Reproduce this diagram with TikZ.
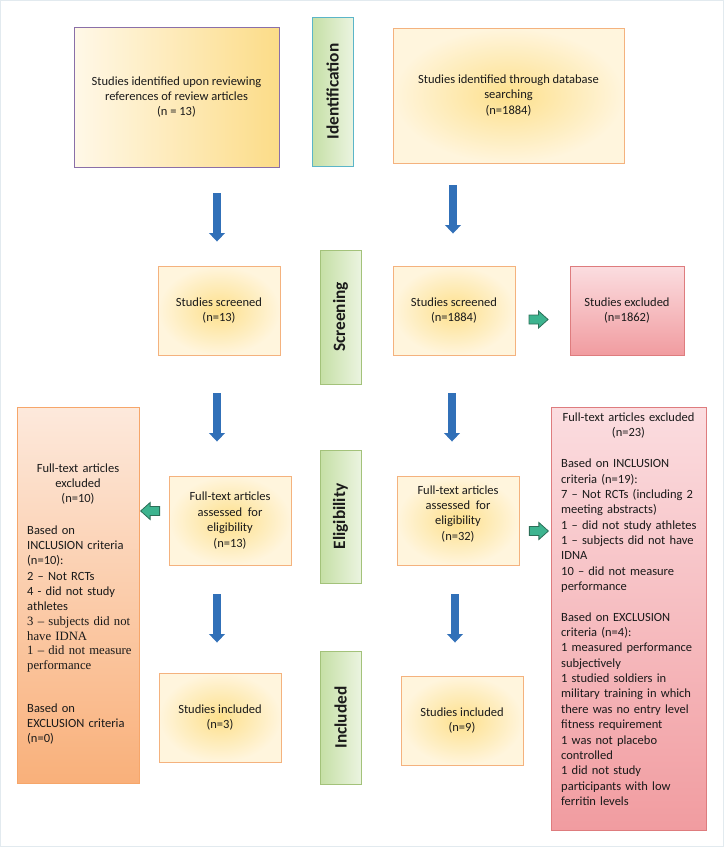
\documentclass[tikz,border=0pt]{standalone}
\usepackage{fontspec}
\setmainfont{Carlito}
\newfontfamily\timesfont{Liberation Serif}
\usetikzlibrary{arrows.meta,calc}
\definecolor{txtc}{HTML}{1A1A1A}
\definecolor{framec}{HTML}{E2EAEF}
\definecolor{yelB}{HTML}{F4B27E}
\definecolor{yelC}{HTML}{FDE08C}
\definecolor{yelO}{HTML}{FFF5DD}
\definecolor{idLL}{HTML}{FFF8E8}
\definecolor{idLR}{HTML}{FCDC88}
\definecolor{purB}{HTML}{8A6FA8}
\definecolor{stgTop}{HTML}{EBF4E0}
\definecolor{stgBot}{HTML}{C5DFA5}
\definecolor{stgB}{HTML}{A3C27A}
\definecolor{idB}{HTML}{5BB5C8}
\definecolor{redT}{HTML}{FBDDE0}
\definecolor{redBot}{HTML}{F19CA0}
\definecolor{redB}{HTML}{DE7C7E}
\definecolor{orT}{HTML}{FDE9DC}
\definecolor{orBot}{HTML}{F9B07A}
\definecolor{orB}{HTML}{F6A66A}
\definecolor{blueA}{HTML}{3170B8}
\definecolor{grF}{HTML}{3DB48F}
\definecolor{grD}{HTML}{2C6E58}
\begin{document}
\begin{tikzpicture}[x=1pt,y=-1pt,
  box/.style={rectangle, line width=0.9pt, align=center, inner sep=0pt,
    font=\fontsize{12.5}{15.35}\selectfont, text=txtc},
  ybox/.style={box, draw=yelB, inner color=yelC, outer color=yelO},
  rbox/.style={box, draw=redB, top color=redT, bottom color=redBot},
  obox/.style={box, draw=orB, top color=orT, bottom color=orBot},
  stage/.style={rectangle, rotate=90, draw=stgB, line width=0.9pt,
    left color=stgBot, right color=stgTop, minimum height=41pt, inner sep=0pt,
    font=\fontsize{17.3}{20}\selectfont\bfseries, text=txtc},
  listtxt/.style={anchor=base west, inner sep=0pt, text width=150pt, align=left,
    font=\fontsize{12.5}{15.35}\selectfont, text=txtc},
  headtxt/.style={anchor=base, inner sep=0pt, text width=150pt, align=center,
    font=\fontsize{12.5}{15.35}\selectfont, text=txtc},
  bluearr/.style={draw=blueA, line width=7.5pt, -{Triangle[width=15.5pt,length=8.5pt]}},
  garr/.style={fill=grF, draw=grD, line width=0.8pt, line join=miter},
  gR/.pic={\path[garr] (-9.5,-4.5) -- (0,-4.5) -- (0,-8.5) -- (9.5,0) -- (0,8.5) -- (0,4.5) -- (-9.5,4.5) -- cycle;}
]
\useasboundingbox (0,0) rectangle (724,847);
\draw[framec, line width=1pt] (0.5,0.5) rectangle (723.5,846.5);

% stage bars
\node[stage, draw=idB, minimum width=149pt] (sId) at (332.5,91.5) {Identification};
\node[stage, minimum width=134pt] (sScr) at (340.5,317) {Screening};
\node[stage, minimum width=133pt] (sElig) at (340.5,516.5) {Eligibility};
\node[stage, minimum width=133pt] (sIncl) at (340.5,717.5) {Included};

% boxes
\node[box, draw=purB, left color=idLL, right color=idLR, minimum width=205pt, minimum height=140pt] (idL) at (176.5,97)
  {Studies identified upon reviewing\\references of review articles\\(n = 13)};
\node[ybox, minimum width=231pt, minimum height=135pt] (idR) at (508.5,95.5)
  {Studies identified through database\\searching\\(n=1884)};
\node[ybox, minimum width=122pt, minimum height=89pt] (scrL) at (219,310.5) {Studies screened\\(n=13)};
\node[ybox, minimum width=122pt, minimum height=89pt] (scrR) at (454,310.5) {Studies screened\\(n=1884)};
\node[rbox, minimum width=114pt, minimum height=89pt] (exclS) at (627,310.5) {Studies excluded\\(n=1862)};
\node[ybox, minimum width=122pt, minimum height=89pt] (eligL) at (230,520.5)
  {Full-text articles\\assessed\ \ for\\eligibility\\(n=13)};
\node[ybox, minimum width=122pt, minimum height=89pt] (eligR) at (458,520.5)
  {Full-text articles\\assessed\ \ for\\eligibility\\(n=32)\\\mbox{}};
\node[ybox, minimum width=122pt, minimum height=89pt] (inclL) at (220,717.5) {Studies included\\(n=3)};
\node[ybox, minimum width=122pt, minimum height=89pt] (inclR) at (462,720.5) {Studies included\\(n=9)};
\node[obox, minimum width=122pt, minimum height=376pt] (exclL) at (78,595) {};
\node[rbox, minimum width=155pt, minimum height=423pt] (exclR) at (628.5,618.5) {};

% texts of the left exclusion box
\node[headtxt] (exclLh) at (78,472) {Full-text articles\\excluded\\(n=10)};
\node[listtxt] (exclLa) at (27,534) {Based on\\INCLUSION criteria\\(n=10):\\2 – Not RCTs\\4 - did not study\\athletes};
\node[listtxt, font=\fontsize{12.7}{14.6}\timesfont] (exclLb) at (27,625.6)
  {3 – subjects did not\\have IDNA\\1 – did not measure\\performance};
\node[listtxt] (exclLc) at (27,712) {Based on\\EXCLUSION criteria\\(n=0)};

% texts of the right exclusion box
\node[headtxt] (exclRh) at (628.5,421.6) {Full-text articles excluded\\(n=23)};
\node[listtxt] (exclRa) at (561,467.7) {Based on INCLUSION\\criteria (n=19):\\7 – Not RCTs (including 2\\meeting abstracts)\\1 – did not study athletes\\1 – subjects did not have\\IDNA\\10 – did not measure\\performance};
\node[listtxt] (exclRb) at (561,621.2) {Based on EXCLUSION\\criteria (n=4):\\1 measured performance\\subjectively\\1 studied soldiers in\\military training in which\\there was no entry level\\fitness requirement\\1 was not placebo\\controlled\\1 did not study\\participants with low\\ferritin levels};

% blue arrows
\draw[bluearr] ($(idL.south -| scrL.north)+(-2,26)$) -- ($(scrL.north)+(-2,-24)$);
\draw[bluearr] ($(idR.south -| scrR.north)+(-1,22)$) -- ($(scrR.north)+(-1,-32)$);
\draw[bluearr] ($(scrL.south)+(-2,38)$) -- ($(eligL.north -| scrL.south)+(-2,-34)$);
\draw[bluearr] ($(scrR.south)+(-2,38)$) -- ($(eligR.north -| scrR.south)+(-2,-34)$);
\draw[bluearr] ($(eligL.south -| inclL.north)+(-3,29)$) -- ($(inclL.north)+(-3,-30)$);
\draw[bluearr] ($(eligR.south)+(-3,29)$) -- ($(inclR.north -| eligR.south)+(-3,-33)$);

% green block arrows
\coordinate (g1a) at ($(scrR.east)+(0,9)$);
\coordinate (g1b) at ($(scrR.east -| exclS.west)+(0,9)$);
\pic at ($(g1a)!0.427!(g1b)$) {gR};
\coordinate (g2a) at ($(eligR.east)+(0,10.5)$);
\coordinate (g2b) at ($(eligR.east -| exclR.west)+(0,10.5)$);
\pic at ($(g2a)!0.625!(g2b)$) {gR};
\coordinate (g3a) at ($(eligL.west)+(0,-9.5)$);
\coordinate (g3b) at ($(eligL.west -| exclL.east)+(0,-9.5)$);
\pic[rotate=180] at ($(g3a)!0.633!(g3b)$) {gR};
\end{tikzpicture}
\end{document}
